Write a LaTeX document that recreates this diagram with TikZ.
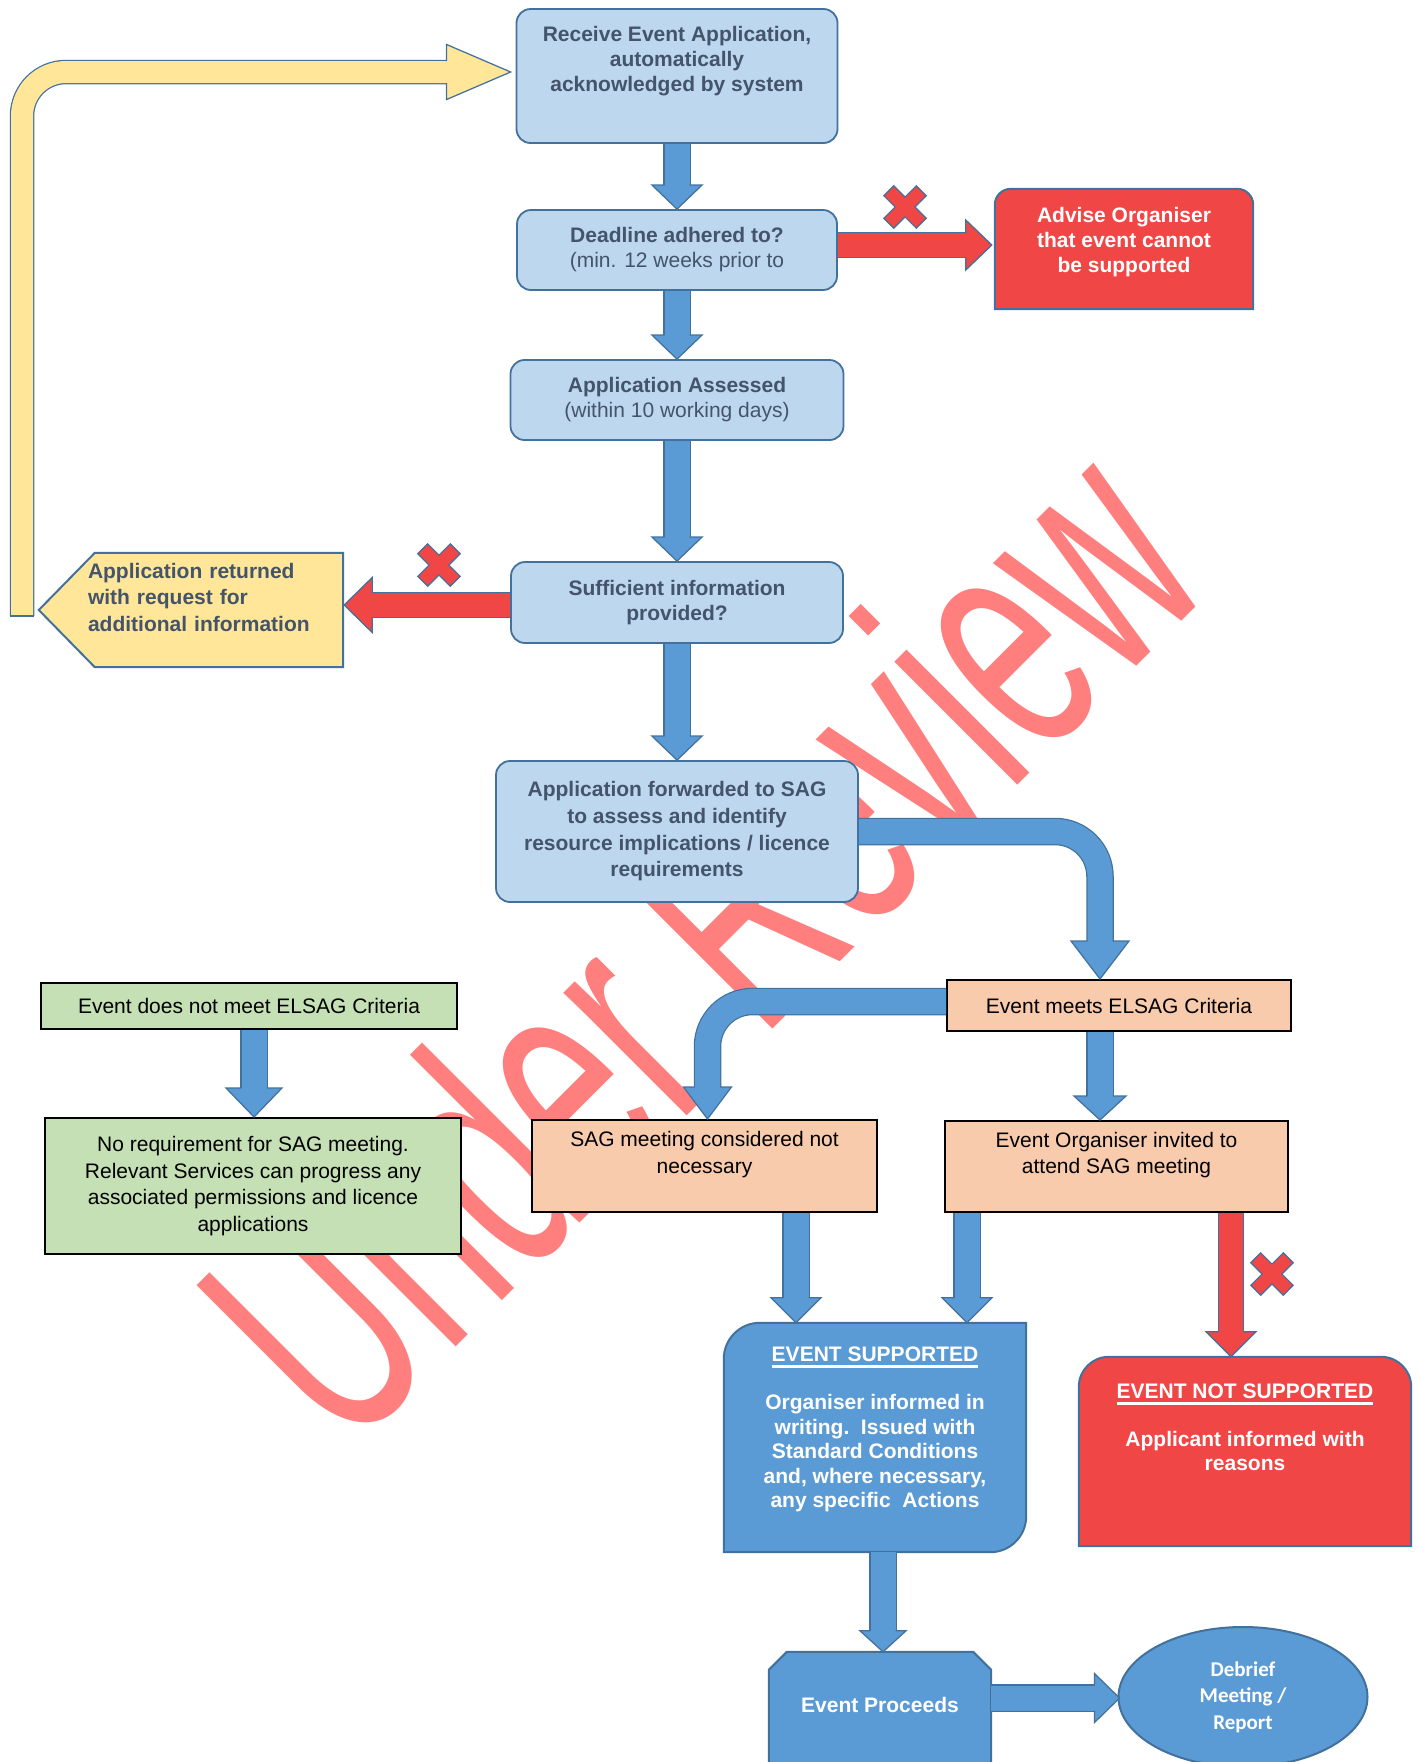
\documentclass[tikz,border=0pt]{standalone}
\usepackage{fontspec}
\setmainfont{Liberation Sans}
\newfontfamily\carlito{Carlito}
\usetikzlibrary{calc,shapes.geometric}

\definecolor{boxblue}{HTML}{BDD7EE}
\definecolor{edgeblue}{HTML}{41719C}
\definecolor{arrowblue}{HTML}{5B9BD5}
\definecolor{txtslate}{HTML}{44546A}
\definecolor{alertred}{HTML}{F04646}
\definecolor{notegold}{HTML}{FFE699}
\definecolor{passgreen}{HTML}{C5E0B4}
\definecolor{peach}{HTML}{F8CBAD}
\definecolor{stampred}{HTML}{FF7F7F}

\pgfdeclarelayer{stamp}
\pgfdeclarelayer{back}
\pgfsetlayers{stamp,back,main}

\newcommand{\sink}[1]{\rule[-#1pt]{0pt}{#1pt}}
\newsavebox{\hdbox}
\newcommand{\hdline}[1]{\sbox{\hdbox}{#1}\rlap{\rule[-6pt]{\wd\hdbox}{2.5pt}}\usebox{\hdbox}}
% block arrow head: style, tip, angle, half shaft, half head, length
\newcommand{\blockhead}[6]{\filldraw[#1,shift={(#2)},rotate=#3] (-#4,-#6) -- (-#5,-#6) -- (0,0) -- (#5,-#6) -- (#4,-#6);}
\newcommand{\crossmark}[1]{\filldraw[xmark,shift={(#1)},rotate=45] (-7,-23) -- (7,-23) -- (7,-7) -- (23,-7) -- (23,7) -- (7,7) -- (7,23) -- (-7,23) -- (-7,7) -- (-23,7) -- (-23,-7) -- (-7,-7) -- cycle;}

\begin{document}
\fontsize{21}{25}\selectfont
\begin{tikzpicture}[x=1pt, y=-1pt,
    stepbox/.style={draw=edgeblue, fill=boxblue, line width=1.8pt, rounded corners=14pt, text=txtslate, font=\bfseries, align=center, inner sep=0pt},
    critbox/.style={draw=black, fill=#1, line width=2pt, align=center, inner sep=0pt, font=\fontsize{21}{26.7}\selectfont},
    whitebox/.style={text=white, font=\bfseries, align=center, inner sep=0pt},
    redshape/.style={fill=alertred, draw=edgeblue, line width=2pt, line cap=rect},
    blueshape/.style={fill=arrowblue, draw=edgeblue, line width=2pt, line cap=rect},
    goldshape/.style={fill=notegold, draw=edgeblue, line width=2pt},
    bluepipe/.style={draw=arrowblue, line width=25pt, preaction={draw=edgeblue, line width=27.5pt}},
    redpipe/.style={draw=alertred, line width=24pt, preaction={draw=edgeblue, line width=26.5pt}},
    goldpipe/.style={draw=notegold, line width=22pt, preaction={draw=edgeblue, line width=24.5pt}},
    bluehead/.style={fill=arrowblue, draw=edgeblue, line width=1.25pt},
    redhead/.style={fill=alertred, draw=edgeblue, line width=1.25pt},
    goldhead/.style={fill=notegold, draw=edgeblue, line width=1.25pt},
    xmark/.style={fill=alertred, draw=edgeblue, line width=1.2pt}]
\useasboundingbox (0,0) rectangle (1418,1762);

% watermark
\begin{pgfonlayer}{stamp}
\node[rotate=45, text=stampred, inner sep=0pt, font=\fontsize{196}{196}\selectfont] (stampmark) at (698,938) {\scalebox{1}[1.68]{Under Review}};
\end{pgfonlayer}

% main column
\node[stepbox, minimum width=321pt, minimum height=134pt] (recv) at (677,76) {Receive Event Application,\\automatically\\acknowledged by system\sink{34}};
\node[stepbox, minimum width=320pt, minimum height=80pt] (dead) at (677,250) {Deadline adhered to?\\{\mdseries(min. 12 weeks prior to}};
\node[stepbox, minimum width=333pt, minimum height=80pt] (assess) at (677,400) {Application Assessed\\{\mdseries(within 10 working days)}};
\node[stepbox, minimum width=332pt, minimum height=81pt] (suff) at (677,602.5) {Sufficient information\\provided?};
\node[stepbox, minimum width=362pt, minimum height=141pt, font=\fontsize{21}{26.7}\selectfont\bfseries] (fwd) at (677,831.5) {Application forwarded to SAG\\to assess and identify\\resource implications / licence\\requirements};

% side boxes
\node[whitebox, minimum width=258pt, minimum height=120pt] (advise) at (1124,249) {Advise Organiser\\that event cannot\\be supported\sink{18}};
\node[align=left, text width=227pt, inner sep=0pt, minimum width=283pt, minimum height=114pt, text=txtslate, font=\fontsize{21}{26.5}\selectfont\bfseries] (ret) at (201.5,610) {Application returned\\with request for\\additional information\sink{26}};
\coordinate (loop) at (22,616);

% criteria
\node[critbox=passgreen, minimum width=416pt, minimum height=46pt] (nomeet) at (249,1006) {Event does not meet ELSAG Criteria};
\node[critbox=passgreen, minimum width=416pt, minimum height=136pt] (noreq) at (253,1186) {No requirement for SAG meeting.\\Relevant Services can progress any\\associated permissions and licence\\applications};
\node[critbox=peach, minimum width=344pt, minimum height=51pt] (meets) at (1119,1005.5) {Event meets ELSAG Criteria};
\node[critbox=peach, minimum width=345pt, minimum height=92pt] (notnec) at (704.5,1166) {SAG meeting considered not\\necessary\sink{27}};
\node[critbox=peach, minimum width=343pt, minimum height=91pt] (org) at (1116.5,1166.5) {Event Organiser invited to\\attend SAG meeting\sink{27}};

% outcomes
\node[whitebox, minimum width=302pt, minimum height=229pt, font=\fontsize{21}{24.5}\selectfont\bfseries] (sup) at (875,1437.5) {\hdline{EVENT SUPPORTED}\\[23.5pt]Organiser informed in\\writing.\ \ Issued with\\Standard Conditions\\and, where necessary,\\any specific\ \ Actions\sink{20}};
\node[whitebox, minimum width=332pt, minimum height=189pt, font=\fontsize{21}{23.5}\selectfont\bfseries] (notsup) at (1245,1451.5) {\hdline{EVENT NOT SUPPORTED}\\[24.5pt]Applicant informed with\\reasons\sink{49}};
\node[whitebox, minimum width=222pt, minimum height=113pt] (proc) at (880,1708.5) {Event Proceeds\sink{8}};
\node[ellipse, draw=edgeblue, fill=arrowblue, line width=2pt, text=white, align=center, inner sep=0pt, minimum width=249pt, minimum height=140pt, font=\carlito\fontsize{21}{26.5}\selectfont\bfseries] (debrief) at (1243,1697) {Debrief\\Meeting /\\Report};

% shaped boxes
\begin{pgfonlayer}{back}
\filldraw[redshape, rounded corners=16pt] (advise.south east) -- (advise.north east) -- (advise.north west) -- (advise.south west) (advise.south west) -- (advise.south east);
\filldraw[redshape, rounded corners=30pt] (notsup.south east) -- (notsup.north east) -- (notsup.north west) -- (notsup.south west) (notsup.south west) -- (notsup.south east);
\filldraw[blueshape, rounded corners=36pt] (sup.north east) -- (sup.north west) -- (sup.south west) (sup.south west) -- (sup.south east) -- (sup.north east);
\filldraw[blueshape] (proc.south west) -- ($(proc.north west)+(0,18)$) -- ($(proc.north west)+(18,0)$) -- ($(proc.north east)+(-18,0)$) -- ($(proc.north east)+(0,18)$) -- (proc.south east) -- cycle;
\filldraw[goldshape] (ret.north east) -- (ret.south east) -- ($(ret.south west)+(35,0)$) -- ($(ret.west)+(-21,0)$) -- ($(ret.north west)+(35,0)$) -- cycle;
\end{pgfonlayer}

% arrows
\draw[goldpipe, rounded corners=44pt] (loop) |- ($(recv.west)+(-68,-4)$);
\draw[edgeblue, line width=1.25pt] ($(loop)+(-12.2,0)$) -- ($(loop)+(12.2,0)$);
\blockhead{goldhead}{$(recv.west)+(-5,-4)$}{90}{11}{27.5}{64}
\foreach \a/\b in {recv/dead, dead/assess, assess/suff, suff/fwd}
{
    \draw[bluepipe] (\a.south) -- ($(\b.north)+(0,-23)$);
    \blockhead{bluehead}{\b.north}{0}{12.5}{25}{24}
}
\draw[redpipe] ($(dead.east)+(0,-5)$) -- ($(advise.west)+(-28,-4)$);
\blockhead{redhead}{$(advise.west)+(-3,-4)$}{90}{12}{25}{26}
\draw[redpipe] ($(suff.west)+(0,2.5)$) -- ($(ret.east)+(28,-5)$);
\blockhead{redhead}{$(ret.east)+(1,-5)$}{-90}{12}{27.5}{28}
\draw[bluepipe, rounded corners=45pt] (fwd.east) -| ($(meets.north)+(-19,-37)$);
\blockhead{bluehead}{$(meets.north)+(-19,0)$}{0}{12.5}{29}{38}
\draw[bluepipe, rounded corners=45pt] ($(meets.west)+(0,-4)$) -| ($(notnec.north)+(3,-31)$);
\blockhead{bluehead}{$(notnec.north)+(3,0)$}{0}{12.5}{24}{32}
\draw[bluepipe] ($(meets.south)+(-19,0)$) -- ($(org.north)+(-16.5,-23)$);
\blockhead{bluehead}{$(org.north)+(-16.5,0)$}{0}{12.5}{26}{24}
\draw[bluepipe] ($(nomeet.south)+(5,0)$) -- ($(noreq.north)+(1,-28)$);
\blockhead{bluehead}{$(noreq.north)+(1,0)$}{0}{12.5}{28}{29}
\draw[bluepipe] ($(notnec.south)+(91.5,0)$) -- ($(sup.north)+(-79,-24)$);
\blockhead{bluehead}{$(sup.north)+(-79,0)$}{0}{12.5}{25}{25}
\draw[bluepipe] ($(org.south)+(-149.5,0)$) -- ($(sup.north)+(92,-24)$);
\blockhead{bluehead}{$(sup.north)+(92,0)$}{0}{12.5}{25}{25}
\draw[redpipe] ($(org.south)+(114.5,0)$) -- ($(notsup.north)+(-14,-24)$);
\blockhead{redhead}{$(notsup.north)+(-14,0)$}{0}{12}{25}{25}
\draw[bluepipe] ($(sup.south)+(8,0)$) -- ($(proc.north)+(3,-20)$);
\blockhead{bluehead}{$(proc.north)+(3,0)$}{0}{12.5}{23}{21}
\draw[bluepipe] ($(proc.east)+(0,-10.5)$) -- ($(debrief.west)+(-22,1)$);
\blockhead{bluehead}{$(debrief.west)+(2,1)$}{90}{12.5}{24.5}{25}

% rejections
\crossmark{905,207}
\crossmark{439,565}
\crossmark{1272,1274}
\end{tikzpicture}
\end{document}
